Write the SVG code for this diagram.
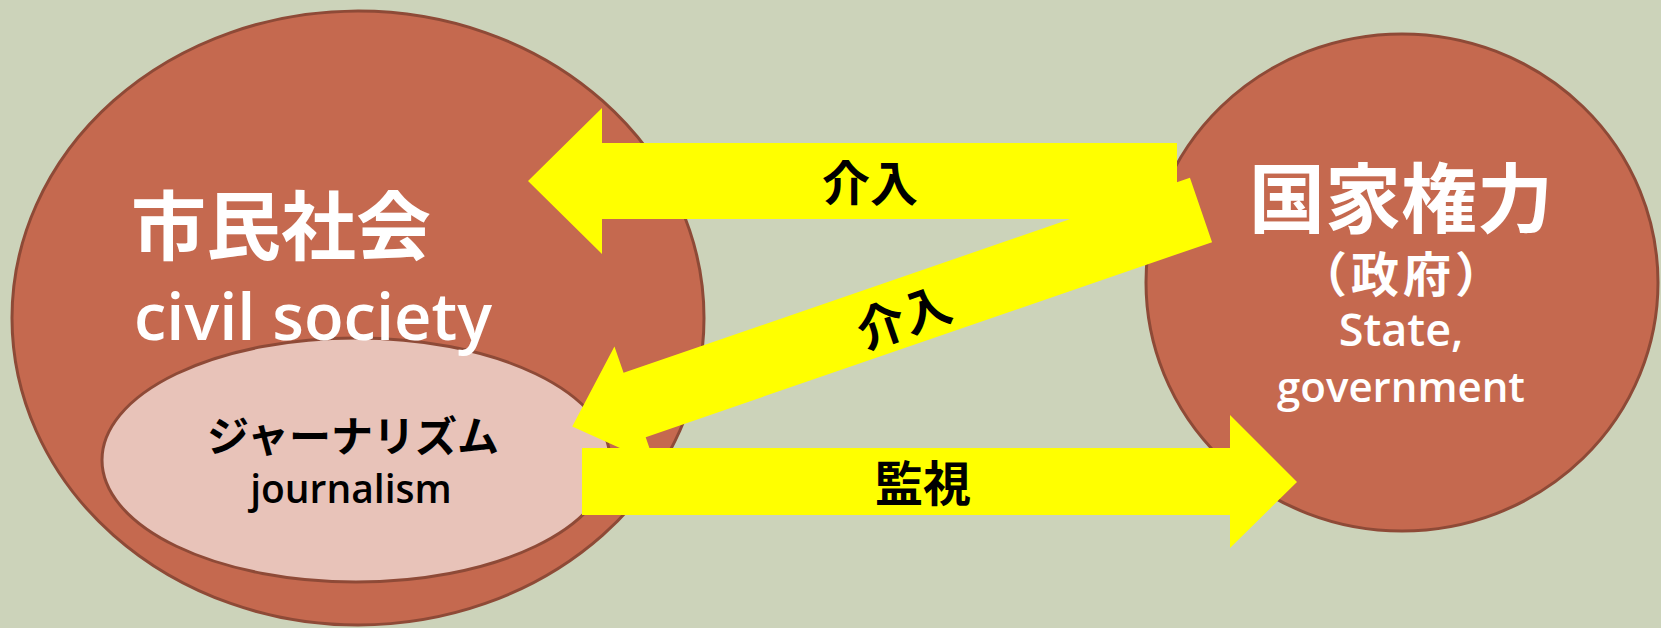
<svg xmlns="http://www.w3.org/2000/svg" width="1661" height="628" viewBox="0 0 1661 628">
<style>
.big{fill:#C5694F;stroke:#8E4A37;stroke-width:3}
.jr{fill:#E8C3B9;stroke:#8E4A37;stroke-width:3}
.arrow{fill:#FFFF00}
.cjk{font-family:"Noto Sans CJK JP",sans-serif;font-weight:700;text-anchor:middle}
.lat{font-family:"Open Sans","Noto Sans CJK JP",sans-serif;font-weight:600;text-anchor:middle}
.w{fill:#FFFFFF}
.k{fill:#000000}
</style>
<rect x="0" y="0" width="1661" height="628" fill="#CCD3BA"/>
<g id="civil-society">
<ellipse class="big" cx="358" cy="318" rx="346" ry="307"/>
<g id="journalism">
<ellipse class="jr" cx="356" cy="460" rx="254" ry="122"/>
<text class="cjk k" x="353" y="452" font-size="42">ジャーナリズム</text>
<text class="lat k" x="351" y="503" font-size="39">journalism</text>
</g>
<text class="cjk w" x="281" y="254" font-size="75">市民社会</text>
<text class="lat w" x="313" y="340" font-size="65">civil society</text>
</g>
<g id="state">
<ellipse class="big" cx="1402" cy="282.5" rx="256" ry="248.5"/>
<text class="cjk w" x="1401" y="227" font-size="76">国家権力</text>
<text class="cjk w" x="1403" y="292" font-size="48" letter-spacing="4">（政府）</text>
<text class="lat w" x="1401" y="346" font-size="45">State,</text>
<text class="lat w" x="1401" y="402" font-size="42">government</text>
</g>
<g id="connectors">
<g id="intervene-top">
<polygon class="arrow" points="1177,143 602,143 602,108 528,181 602,254 602,219 1177,219"/>
<text class="cjk k" x="870" y="201" font-size="48">介入</text>
</g>
<g id="intervene-diag">
<polygon class="arrow" transform="translate(1201,210) rotate(161)" points="0,-34 599,-34 599,-62 665,0 599,62 599,34 0,34"/>
<text class="cjk k" transform="translate(904,318) rotate(-19)" x="0" y="17" font-size="48">介入</text>
</g>
<g id="monitor">
<polygon class="arrow" points="582,448 1230,448 1230,415 1297,482 1230,548 1230,515 582,515"/>
<text class="cjk k" x="923" y="501" font-size="48">監視</text>
</g>
</g>
</svg>
